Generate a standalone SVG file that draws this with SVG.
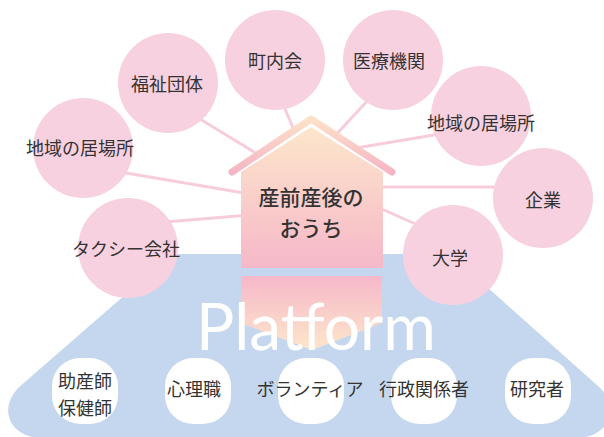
<svg xmlns="http://www.w3.org/2000/svg" width="604" height="437" viewBox="0 0 604 437">
<defs>
<linearGradient id="houseGrad" x1="0" y1="0" x2="0" y2="1">
<stop offset="0" stop-color="#fde6cb"/>
<stop offset="1" stop-color="#f6b8c9"/>
</linearGradient>
<linearGradient id="roofGrad" gradientUnits="userSpaceOnUse" x1="0" y1="117" x2="0" y2="175">
<stop offset="0" stop-color="#fde3c8"/>
<stop offset="1" stop-color="#f5b3c5"/>
</linearGradient>
<linearGradient id="reflGrad" x1="0" y1="0" x2="0" y2="1">
<stop offset="0" stop-color="#f6b8c9"/>
<stop offset="1" stop-color="#fde6cb"/>
</linearGradient>
</defs>
<style>
.lbl{font-family:"Noto Sans CJK JP","Noto Sans",sans-serif;font-size:18px;fill:#333;text-anchor:middle;dominant-baseline:central}
.big{font-size:21px;font-weight:500}
.circ{fill:#f7d1e0}
.conn{stroke:#f7cddd;stroke-width:3;fill:none}
.card{fill:#ffffff}
</style>

<g id="platform">
<path d="M172,254 H450 L598,386 Q622,408 603,428 Q593,438 575,438 H42 Q22,438 12,424 Q2,406 18,388 Z" fill="#c5d7ee"/>
</g>

<g id="connectors">
<line class="conn" x1="200" y1="119" x2="262" y2="157"/>
<line class="conn" x1="283" y1="104" x2="296" y2="135"/>
<line class="conn" x1="370" y1="98" x2="332" y2="139"/>
<line class="conn" x1="440" y1="134" x2="350" y2="149"/>
<line class="conn" x1="375" y1="187" x2="500" y2="187"/>
<line class="conn" x1="375" y1="206" x2="420" y2="226"/>
<line class="conn" x1="120" y1="172" x2="250" y2="194"/>
<line class="conn" x1="165" y1="222" x2="250" y2="215"/>
</g>

<g id="node-fukushi"><circle class="circ" cx="168" cy="83" r="50"/><text class="lbl" x="167" y="83">福祉団体</text></g>
<g id="node-chonaikai"><circle class="circ" cx="275" cy="60" r="50"/><text class="lbl" x="275" y="60">町内会</text></g>
<g id="node-iryo"><circle class="circ" cx="393" cy="60" r="50"/><text class="lbl" x="389" y="60">医療機関</text></g>
<g id="node-ibasho-r"><circle class="circ" cx="481" cy="116" r="50"/><text class="lbl" x="481" y="122">地域の居場所</text></g>
<g id="node-kigyo"><circle class="circ" cx="543" cy="198" r="50"/><text class="lbl" x="543" y="199">企業</text></g>
<g id="node-daigaku"><circle class="circ" cx="453" cy="255" r="50"/><text class="lbl" x="450" y="257">大学</text></g>
<g id="node-taxi"><circle class="circ" cx="128" cy="248" r="50"/><text class="lbl" x="126" y="248">タクシー会社</text></g>
<g id="node-ibasho-l"><circle class="circ" cx="83" cy="148" r="50"/><text class="lbl" x="80" y="147">地域の居場所</text></g>

<g id="house">
<polygon points="232,172 311,119 392,172" fill="#ffffff"/>
<polyline points="232,172 311,119 392,172" fill="none" stroke="url(#roofGrad)" stroke-width="7" stroke-linecap="round" stroke-linejoin="round"/>
<path d="M241,268 V172 L311,127 L383,172 V268 Z" fill="url(#houseGrad)"/>
<text class="lbl big" x="311" y="196">産前産後の</text>
<text class="lbl big" x="311" y="227">おうち</text>
</g>

<g id="reflection">
<path d="M241,276 H382 V323 L312,350 L241,323 Z" fill="url(#reflGrad)"/>
</g>

<g id="platform-title">
<text x="196" y="350" textLength="240" lengthAdjust="spacingAndGlyphs" style="font-family:Lato,'Open Sans',sans-serif;font-size:66px;fill:#ffffff">Platform</text>
</g>

<g id="card-josanshi"><rect class="card" x="52" y="358" width="66" height="66" rx="28"/><text class="lbl" x="85" y="380">助産師</text><text class="lbl" x="85" y="407">保健師</text></g>
<g id="card-shinri"><rect class="card" x="165" y="358" width="66" height="66" rx="28"/><text class="lbl" x="194" y="388">心理職</text></g>
<g id="card-volunteer"><rect class="card" x="278" y="358" width="66" height="66" rx="28"/><text class="lbl" x="310" y="388">ボランティア</text></g>
<g id="card-gyosei"><rect class="card" x="391" y="358" width="66" height="66" rx="28"/><text class="lbl" x="424" y="388">行政関係者</text></g>
<g id="card-kenkyu"><rect class="card" x="505" y="358" width="66" height="66" rx="28"/><text class="lbl" x="537" y="388">研究者</text></g>
</svg>
